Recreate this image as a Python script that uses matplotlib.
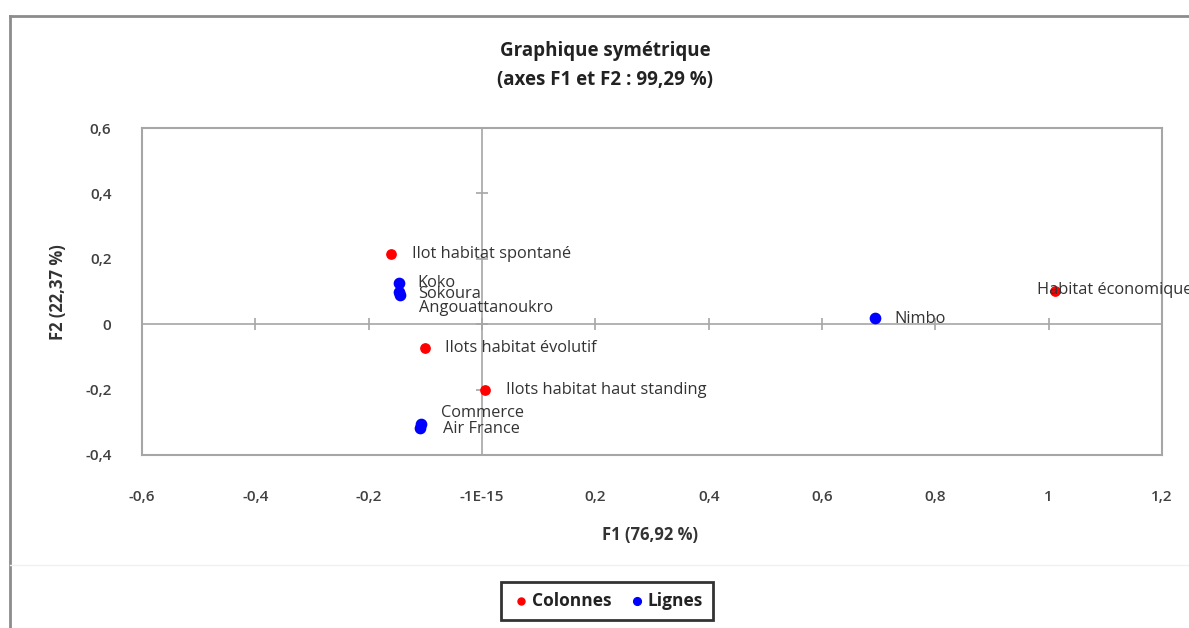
import matplotlib
matplotlib.use("Agg")
import matplotlib.pyplot as plt
from matplotlib.lines import Line2D

plt.rcParams['font.family'] = ['Open Sans', 'DejaVu Sans']

# ---- data ----
col_names = ["Ilot habitat spontané", "Ilots habitat évolutif",
             "Ilots habitat haut standing", "Habitat économique"]
col_x = [-0.160, -0.100, 0.005, 1.012]
col_y = [0.214, -0.074, -0.202, 0.102]

row_names = ["Koko", "Sokoura", "Angouattanoukro", "Commerce", "Air France", "Nimbo"]
row_x = [-0.147, -0.146, -0.145, -0.108, -0.109, 0.694]
row_y = [0.127, 0.097, 0.088, -0.306, -0.316, 0.019]

x_ticks = [-0.6, -0.4, -0.2, 0.0, 0.2, 0.4, 0.6, 0.8, 1.0, 1.2]
x_tick_labels = ["-0,6", "-0,4", "-0,2", "-1E-15", "0,2", "0,4", "0,6", "0,8", "1", "1,2"]
y_ticks = [-0.4, -0.2, 0.0, 0.2, 0.4, 0.6]
y_tick_labels = ["-0,4", "-0,2", "0", "0,2", "0,4", "0,6"]

title_lines = ["Graphique symétrique", "(axes F1 et F2 : 99,29 %)"]
xlabel = "F1 (76,92 %)"
ylabel = "F2 (22,37 %)"

# label offsets (pixels)
col_off = [(21, 0), (20, 0), (21, 0), (-18, 1)]
row_off = [(19, 0), (19, -2), (19, -13), (20, 11), (23, -1), (19, -1)]

W, H = 1189, 628
fig = plt.figure(figsize=(W / 100, H / 100), dpi=100)
ax = fig.add_axes([142 / W, 1 - 455 / H, (1162 - 142) / W, (455 - 128) / H])

ax.set_xlim(x_ticks[0], x_ticks[-1])
ax.set_ylim(y_ticks[0], y_ticks[-1])

grey = "#a6a6a6"
for s in ax.spines.values():
    s.set_color(grey)
    s.set_linewidth(1.5)

ax.axhline(0, color=grey, lw=1.2, zorder=1)
ax.axvline(0, color=grey, lw=1.2, zorder=1)
# tick marks on the central axes
ax.plot(x_ticks, [0] * len(x_ticks), ls="none", marker="|", ms=9, mew=1.2, color=grey, zorder=1)
ax.plot([0] * len(y_ticks), y_ticks, ls="none", marker="_", ms=9, mew=1.2, color=grey, zorder=1)

ax.set_xticks(x_ticks)
ax.set_xticklabels(x_tick_labels)
ax.set_yticks(y_ticks)
ax.set_yticklabels(y_tick_labels)
ax.tick_params(axis="both", length=0, labelsize=11, labelcolor="#404040")
ax.tick_params(axis="x", pad=25)
ax.tick_params(axis="y", pad=22)
for t in ax.get_xticklabels() + ax.get_yticklabels():
    t.set_fontweight("semibold")

ax.scatter(col_x, col_y, s=45, color="#ff0000", zorder=3, label="Colonnes", clip_on=False)
ax.scatter(row_x, row_y, s=55, color="#0000ff", zorder=3, label="Lignes", clip_on=False)

for n, x, y, o in zip(col_names, col_x, col_y, col_off):
    ax.annotate(n, (x, y), xytext=o, textcoords="offset pixels", ha="left", va="center",
                fontsize=11.8, color="#333333", annotation_clip=False, zorder=4)
for n, x, y, o in zip(row_names, row_x, row_y, row_off):
    ax.annotate(n, (x, y), xytext=o, textcoords="offset pixels", ha="left", va="center",
                fontsize=11.8, color="#333333", annotation_clip=False, zorder=4)

fig.text(605 / W, 1 - 51 / H, title_lines[0], ha="center", va="center",
         fontsize=13.5, fontweight="bold", color="#222222")
fig.text(605 / W, 1 - 80 / H, title_lines[1], ha="center", va="center",
         fontsize=13.5, fontweight="bold", color="#222222")

fig.text(650 / W, 1 - 535 / H, xlabel, ha="center", va="center",
         fontsize=12, fontweight="bold", color="#333333")
fig.text(58 / W, 1 - 292 / H, ylabel, ha="center", va="center", rotation=90,
         fontsize=12, fontweight="bold", color="#333333")

leg = fig.legend(loc="center", bbox_to_anchor=(607 / W, 1 - 601 / H), ncol=2,
                 frameon=True, fancybox=False, fontsize=12.5, handletextpad=0.0,
                 columnspacing=0.9, handlelength=1.2, markerscale=0.75,
                 borderpad=0.55, borderaxespad=0)
leg.get_frame().set_edgecolor("black")
leg.get_frame().set_linewidth(2)
for t in leg.get_texts():
    t.set_fontweight("bold")
    t.set_color("#222222")

# outer chart frame and separator
fig.add_artist(Line2D([10 / W, 1], [1 - 16 / H, 1 - 16 / H], color="#8c8c8c", lw=2))
fig.add_artist(Line2D([10 / W, 10 / W], [0, 1 - 16 / H], color="#8c8c8c", lw=2))
fig.add_artist(Line2D([10 / W, 1], [1 - 565 / H, 1 - 565 / H], color="#f0f0f0", lw=1))

fig.savefig("out.png", dpi=100)
